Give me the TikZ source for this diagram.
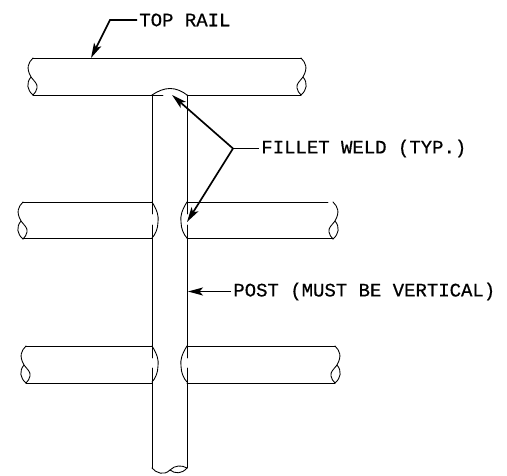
\documentclass[tikz,border=0pt]{standalone}
\usepackage{fontspec}
\setmonofont[FakeBold=.6]{Liberation Mono}
\usetikzlibrary{arrows.meta,positioning}
\tikzset{railend/.pic={
  \draw[pipe] (0,0) .. controls (-5,5) and (-7,10) .. (-2,19) .. controls (1,23) and (5,26) .. (4,30) .. controls (3.5,33) and (2,35) .. (0,37);
  \draw[pipe] (-2,19) .. controls (-7,25) and (-6,32) .. (0,37);
}}
\begin{document}
\begin{tikzpicture}[x=.02cm,y=-.02cm,pipe/.style={line width=.5pt,line cap=round},lead/.style={line width=.95pt},tip/.style={-{Stealth[length=.3cm,width=.16cm,inset=.07cm]}},main node/.style={anchor=west,inner sep=.04cm,font=\ttfamily\fontsize{10.8}{13}\selectfont}]
\useasboundingbox (0,0) rectangle (507,476);
\node[main node] (vRail) at (137,20) {TOP RAIL};
\node[main node] (vWeld) at (259,148.5) {FILLET WELD (TYP.)};
\node[main node] (vPost) at (231,291.5) {POST (MUST BE VERTICAL)};
\coordinate (vBend) at (110,20);
\coordinate (vHit) at (91,58);
\coordinate (vFork) at (233,148.5);
\coordinate (vWeldA) at (172,95);
\coordinate (vWeldB) at (187,222);
\coordinate (vSide) at (188,291.5);
% rails
\draw[pipe] (33,58) -- (301,58);
\draw[pipe] (33,95) -- (152,95) (187,95) -- (301,95);
\draw[pipe] (23,202) -- (152,202) (23,238) -- (152,238);
\draw[pipe] (187,202) -- (328,202) (187,238) -- (333,238);
\draw[pipe] (26,346) -- (152,346) (26,383) -- (152,383);
\draw[pipe] (187,346) -- (335,346) (187,383) -- (335,383);
\pic at (33,58) {railend};
\pic at (23,202) {railend};
\pic at (26,346) {railend};
\pic[xscale=-1] at (301,58) {railend};
\pic[xscale=-1] at (333,202) {railend};
\pic[xscale=-1] at (335,346) {railend};
% post
\draw[pipe] (152,95) -- (152,214) (152,225) -- (152,358) (152,368) -- (152,468);
\draw[pipe] (187,95) -- (187,214) (187,225) -- (187,358) (187,368) -- (187,468);
\draw[pipe] (152,468) .. controls (156,473) and (164,476) .. (170,470) .. controls (175,465) and (182,465) .. (187,468);
\draw[pipe] (170,470) .. controls (175,474) and (182,474) .. (187,468);
% welds
\draw[pipe] (152,95) .. controls (158,91) and (164,88.5) .. (170,88.5) .. controls (176,88.5) and (182,91) .. (187,95);
\draw[pipe] (152,95) -- (163,95);
\foreach \y in {202,346} {
  \draw[pipe] (152,\y) .. controls (157,\y+8) and (159,\y+14) .. (158,\y+20) .. controls (158,\y+27) and (155,\y+33) .. (152,\y+36);
  \draw[pipe] (187,\y) .. controls (182,\y+8) and (180,\y+14) .. (181,\y+20) .. controls (181,\y+27) and (184,\y+33) .. (187,\y+36);
}
% leaders
\draw[lead,tip] (vRail.west) -- (vBend) -- (vHit);
\draw[lead,tip] (vFork) -- (vWeldA);
\draw[lead,tip] (vFork) -- (vWeldB);
\draw[lead] (vWeld.west) -- (vFork);
\draw[lead,tip] (vPost.west) -- (vSide);
\end{tikzpicture}
\end{document}
